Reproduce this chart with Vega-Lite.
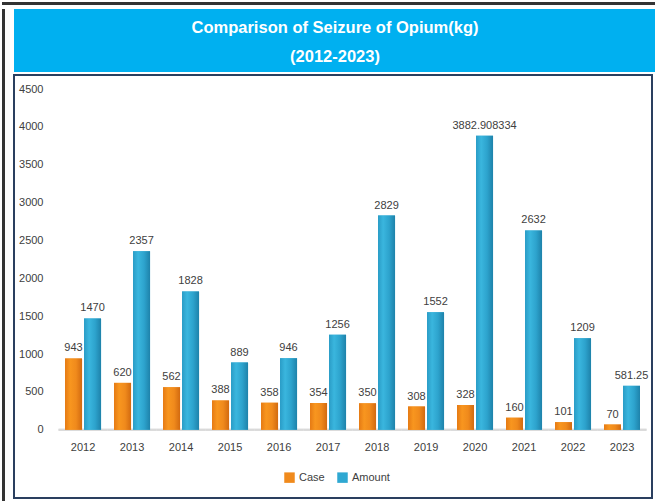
{
  "$schema": "https://vega.github.io/schema/vega-lite/v6.json",
  "background": "white",
  "padding": {"left": 2, "top": 2, "right": 0, "bottom": 0},
  "spacing": 4,
  "config": {"font": "Liberation Sans"},
  "datasets": {
    "seizure": [
      {"year": "2012", "series": "Case", "value": 943},
      {"year": "2012", "series": "Amount", "value": 1470},
      {"year": "2013", "series": "Case", "value": 620},
      {"year": "2013", "series": "Amount", "value": 2357},
      {"year": "2014", "series": "Case", "value": 562},
      {"year": "2014", "series": "Amount", "value": 1828},
      {"year": "2015", "series": "Case", "value": 388},
      {"year": "2015", "series": "Amount", "value": 889},
      {"year": "2016", "series": "Case", "value": 358},
      {"year": "2016", "series": "Amount", "value": 946},
      {"year": "2017", "series": "Case", "value": 354},
      {"year": "2017", "series": "Amount", "value": 1256},
      {"year": "2018", "series": "Case", "value": 350},
      {"year": "2018", "series": "Amount", "value": 2829},
      {"year": "2019", "series": "Case", "value": 308},
      {"year": "2019", "series": "Amount", "value": 1552},
      {"year": "2020", "series": "Case", "value": 328},
      {"year": "2020", "series": "Amount", "value": 3882.908334},
      {"year": "2021", "series": "Case", "value": 160},
      {"year": "2021", "series": "Amount", "value": 2632},
      {"year": "2022", "series": "Case", "value": 101},
      {"year": "2022", "series": "Amount", "value": 1209},
      {"year": "2023", "series": "Case", "value": 70},
      {"year": "2023", "series": "Amount", "value": 581.25}
    ],
    "banner": [
      {"row": 1, "line": "Comparison of Seizure of Opium(kg)"},
      {"row": 2, "line": "(2012-2023)"}
    ]
  },
  "vconcat": [
    {
      "width": 653,
      "height": 3,
      "view": {"fill": "#333333", "stroke": null},
      "data": {"values": []},
      "mark": {"type": "text"},
      "encoding": {}
    },
    {
      "spacing": 8,
      "hconcat": [
        {
          "width": 3,
          "height": 495,
          "view": {"fill": "#333333", "stroke": null},
          "data": {"values": []},
          "mark": {"type": "text"},
          "encoding": {}
        },
        {
          "spacing": 2,
          "vconcat": [
            {
              "width": 642,
              "height": 63,
              "view": {"fill": "#00B0F0", "stroke": null},
              "data": {"name": "banner"},
              "mark": {"type": "text", "color": "white", "fontWeight": "bold", "fontSize": 16.5, "dy": 2},
              "encoding": {
                "y": {"field": "row", "type": "ordinal", "axis": null, "scale": {"padding": 0.6}},
                "text": {"field": "line", "type": "nominal"}
              }
            },
            {
              "width": 638,
              "height": 423,
              "view": {"fill": "white", "stroke": "#2A3F5F", "strokeWidth": 2},
              "data": {"name": "seizure"},
              "encoding": {
                "x": {
                  "field": "year", "type": "nominal",
                  "scale": {"paddingInner": 0.265, "paddingOuter": 0.643, "align": 0.81},
                  "axis": {
                    "orient": "bottom", "offset": -68, "title": null, "labelAngle": 0,
                    "ticks": false, "labelPadding": 11, "labelFontSize": 11, "labelColor": "#404040",
                    "domain": false, "grid": false
                  }
                },
                "xOffset": {
                  "field": "series", "type": "nominal", "sort": ["Case", "Amount"],
                  "scale": {"domain": ["Case", "Amount"], "paddingInner": 0.105, "paddingOuter": 0}
                },
                "y": {
                  "field": "value", "type": "quantitative",
                  "scale": {"domain": [-900, 4685], "nice": false, "zero": false},
                  "axis": {
                    "values": [0, 500, 1000, 1500, 2000, 2500, 3000, 3500, 4000, 4500],
                    "format": "d",
                    "offset": -31, "title": null, "ticks": false, "domain": false, "grid": false,
                    "labelPadding": 2, "labelFontSize": 11, "labelColor": "#404040"
                  }
                }
              },
              "layer": [
                {
                  "mark": {"type": "rule", "color": "#D9D9D9", "strokeWidth": 2},
                  "encoding": {
                    "x": {"field": "year", "type": "nominal", "bandPosition": -0.18},
                    "x2": {"field": "year", "bandPosition": 1.18},
                    "y": {"datum": 0},
                    "xOffset": null
                  }
                },
                {
                  "mark": {"type": "bar"},
                  "encoding": {
                    "y2": {"datum": 0},
                    "color": {
                      "field": "series", "type": "nominal",
                      "scale": {"domain": ["Case", "Amount"], "range": ["#F08A1C", "#2FA8D2"]},
                      "legend": {
                        "title": null, "orient": "none", "direction": "horizontal",
                        "legendX": 282, "legendY": 470, "symbolType": "square", "symbolSize": 110,
                        "symbolStrokeWidth": 0, "labelFontSize": 11, "labelColor": "#404040",
                        "columnPadding": 12, "labelOffset": 4
                      }
                    }
                  }
                },
                {
                  "transform": [{"filter": "datum.series === 'Case'"}],
                  "mark": {
                    "type": "bar",
                    "fill": {"gradient": "linear", "x1": 0, "y1": 0, "x2": 1, "y2": 0,
                      "stops": [{"offset": 0, "color": "#E57A14"}, {"offset": 0.3, "color": "#F8961F"}, {"offset": 0.65, "color": "#F08A1C"}, {"offset": 1, "color": "#D26A10"}]}
                  },
                  "encoding": {"y2": {"datum": 0}}
                },
                {
                  "transform": [{"filter": "datum.series === 'Amount'"}],
                  "mark": {
                    "type": "bar",
                    "fill": {"gradient": "linear", "x1": 0, "y1": 0, "x2": 1, "y2": 0,
                      "stops": [{"offset": 0, "color": "#2A9CC6"}, {"offset": 0.3, "color": "#3AB6DE"}, {"offset": 0.65, "color": "#2DA3CD"}, {"offset": 1, "color": "#1E82AA"}]}
                  },
                  "encoding": {"y2": {"datum": 0}}
                },
                {
                  "mark": {"type": "text", "baseline": "bottom", "dy": -5, "fontSize": 11, "color": "#404040"},
                  "encoding": {
                    "text": {"field": "value", "type": "quantitative"}
                  }
                }
              ]
            }
          ]
        }
      ]
    }
  ]
}
